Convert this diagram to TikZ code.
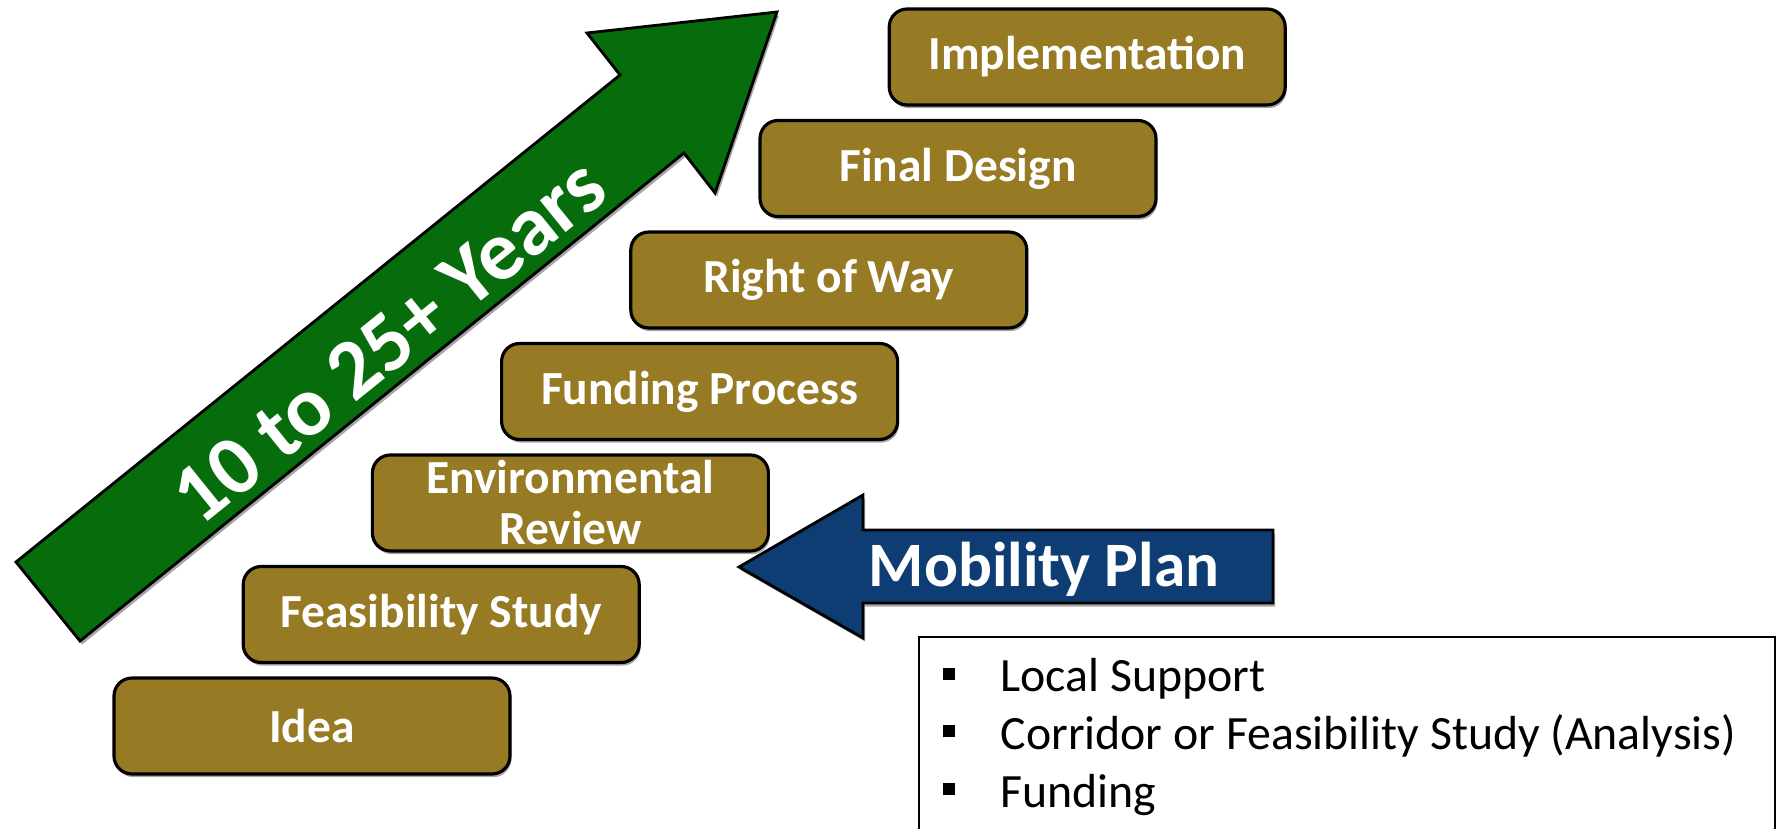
\documentclass[tikz,border=0pt]{standalone}
\usepackage[usenames,dvipsnames]{xcolor}
\usepackage{fontspec}
\setmainfont{Carlito}
\usepackage{tikz}
\usetikzlibrary{shadows}

\definecolor{stagegold}{RGB}{151,122,36}
\definecolor{yeargreen}{RGB}{6,108,12}
\definecolor{planblue}{RGB}{14,61,116}

\begin{document}
\begin{tikzpicture}[
		stage/.style={draw=black, line width=0.9pt, fill=stagegold, rounded corners=0.18cm,
			minimum width=3.96cm, minimum height=0.96cm, inner sep=0pt, align=center,
			text=white, font=\fontsize{13.5}{14.5}\selectfont\bfseries,
			drop shadow={shadow xshift=0.4pt, shadow yshift=-0.9pt, opacity=0.7}},
		item/.style={anchor=base west, inner sep=0pt, font=\fontsize{13.6}{16}\selectfont}]
		\useasboundingbox (0,0) rectangle (17.85,8.29);
		% big green arrow
		\draw[fill=yeargreen, draw=black, line width=0.8pt, drop shadow={shadow xshift=0.6pt, shadow yshift=-1pt, opacity=0.7}]
			(0.16,2.67) -- (6.20,7.54) -- (5.87,7.96) -- (7.77,8.17) -- (7.15,6.36) -- (6.84,6.76) -- (0.80,1.88) -- cycle;
		\node[rotate=38.9, text=white, font=\fontsize{24}{24}\selectfont\bfseries] (years) at (3.89,4.88) {10 to 25+ Years};
		% steps
		\foreach \nm/\txt [count=\i from 0] in {idea/Idea, feas/Feasibility Study,
				env/{Environmental\\Review}, fund/Funding Process,
				row/Right of Way, design/Final Design, impl/Implementation}
			\node[stage] (\nm) at ({3.12+1.292*\i},{1.03+1.115*\i}) {\txt};
		% mobility plan arrow
		\draw[fill=planblue, draw=black, line width=0.8pt, drop shadow={shadow xshift=0.6pt, shadow yshift=-1pt, opacity=0.7}]
			(7.39,2.62) -- (8.63,3.34) -- (8.63,2.99) -- (12.73,2.99) -- (12.73,2.26) -- (8.63,2.26) -- (8.63,1.91) -- cycle;
		\node[anchor=base west, inner sep=0pt, text=white, font=\fontsize{18}{18}\selectfont\bfseries] (plan) at (8.68,2.42) {Mobility Plan};
		% list box
		\draw[line width=0.6pt] (9.19,-0.2) -- (9.19,1.92) -- (17.75,1.92) -- (17.75,-0.2);
		\foreach \txt [count=\i from 0] in {Local Support, Corridor or Feasibility Study (Analysis), Funding}
			\node[item] (need\i) at (9.42,{1.37-0.575*\i}) {\makebox[5.8mm][l]{\rule[1.2mm]{1.2mm}{1.2mm}}\txt};
	\end{tikzpicture}
\end{document}
